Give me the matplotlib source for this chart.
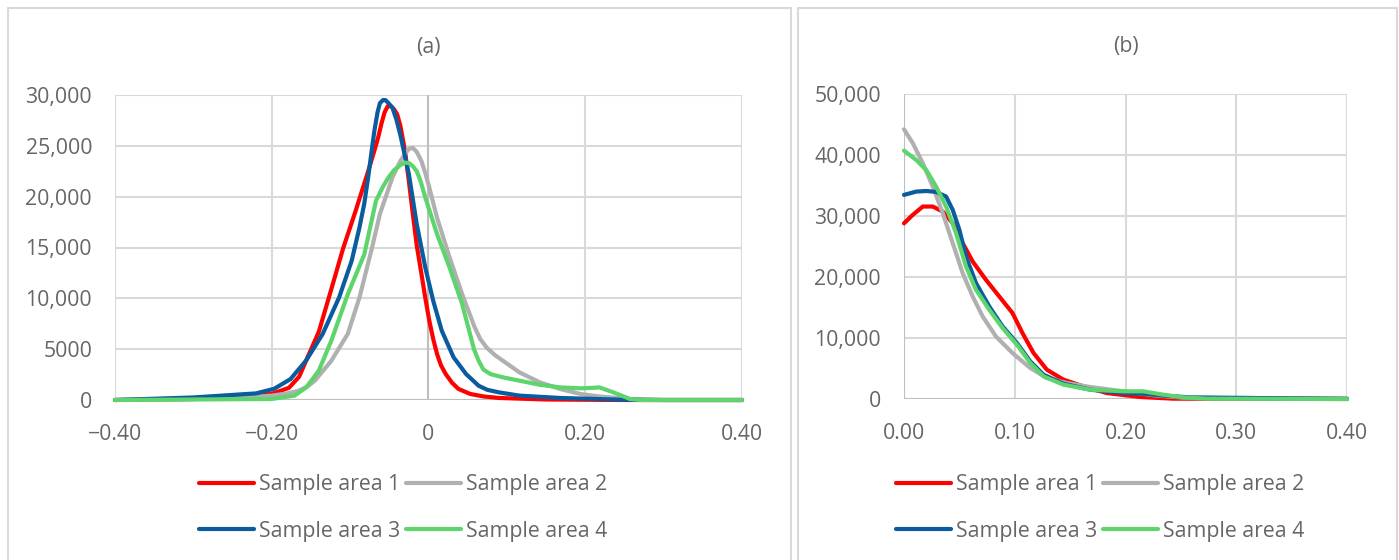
import matplotlib
matplotlib.use("Agg")
import matplotlib.pyplot as plt
from matplotlib.patches import Rectangle
from matplotlib.lines import Line2D

plt.rcParams['font.family'] = ['Open Sans', 'DejaVu Sans']

series_names = ["Sample area 1", "Sample area 2", "Sample area 3", "Sample area 4"]
colors = ["#FF0000", "#B0B0B0", "#0A5C9E", "#5DD56C"]

# ---- Panel (a) ----
a1_x = [-0.40, -0.30, -0.25, -0.20, -0.178, -0.165, -0.156, -0.14, -0.124, -0.109, -0.093, -0.077,
        -0.068, -0.064, -0.060, -0.056, -0.052, -0.048, -0.044, -0.040, -0.036, -0.030, -0.025,
        -0.020, -0.015, -0.009, -0.004, 0.001, 0.006, 0.011, 0.016, 0.022, 0.030, 0.038, 0.053,
        0.07, 0.09, 0.15, 0.25, 0.40]
a1_y = [0, 100, 250, 600, 1200, 2300, 3900, 6700, 10900, 14900, 18600, 22500,
        24800, 25900, 27200, 28300, 28900, 28900, 28600, 28100, 27000, 24500, 21500,
        18300, 15200, 12400, 10000, 7800, 6000, 4500, 3400, 2550, 1700, 1100, 600,
        350, 200, 50, 0, 0]

a2_x = [-0.40, -0.25, -0.20, -0.18, -0.166, -0.155, -0.145, -0.124, -0.103, -0.088, -0.072, -0.062,
        -0.046, -0.036, -0.030, -0.025, -0.020, -0.015, -0.009, -0.004, 0.001, 0.011, 0.027, 0.043,
        0.059, 0.066, 0.074, 0.085, 0.095, 0.116, 0.142, 0.168, 0.194, 0.22, 0.257, 0.30, 0.40]
a2_y = [0, 150, 430, 650, 900, 1300, 1900, 3860, 6500, 10100, 15000, 18300,
        21900, 23500, 24200, 24700, 24800, 24400, 23500, 22300, 20900, 17900, 14000, 10400,
        7140, 6000, 5170, 4400, 3860, 2720, 1740, 1080, 590, 330, 100, 0, 0]

a3_x = [-0.40, -0.30, -0.22, -0.197, -0.176, -0.156, -0.135, -0.114, -0.098, -0.088, -0.082, -0.077,
        -0.072, -0.069, -0.065, -0.062, -0.058, -0.055, -0.051, -0.046, -0.041, -0.036, -0.025,
        -0.015, -0.004, 0.006, 0.017, 0.032, 0.048, 0.064, 0.075, 0.09, 0.116, 0.168, 0.246,
        0.30, 0.40]
a3_y = [0, 250, 650, 1100, 2060, 3900, 6500, 10100, 13700, 17000, 19300, 21900,
        24800, 26500, 28300, 29200, 29500, 29500, 29200, 28750, 27600, 26100, 22200,
        17300, 13000, 9760, 6800, 4200, 2550, 1400, 1000, 750, 430, 200, 30,
        0, 0]

a4_x = [-0.40, -0.20, -0.171, -0.156, -0.14, -0.124, -0.103, -0.082, -0.067, -0.058, -0.051, -0.044,
        -0.036, -0.030, -0.025, -0.020, -0.015, -0.010, -0.004, 0.011, 0.027, 0.043, 0.053, 0.058,
        0.064, 0.070, 0.079, 0.095, 0.116, 0.142, 0.168, 0.194, 0.210, 0.218, 0.236, 0.257, 0.27,
        0.40]
a4_y = [0, 100, 430, 1240, 2880, 5830, 10400, 14300, 19600, 21000, 21900, 22600,
        23100, 23350, 23300, 23000, 22500, 21500, 19900, 16300, 13000, 9430, 6480, 5000,
        3860, 3000, 2550, 2230, 1900, 1500, 1240, 1150, 1200, 1240, 750, 100, 0,
        0]

a_xticks = [-0.40, -0.20, 0.0, 0.20, 0.40]
a_xticklabels = ["\u22120.40", "\u22120.20", "0", "0.20", "0.40"]
a_yticks = [0, 5000, 10000, 15000, 20000, 25000, 30000]
a_yticklabels = ["0", "5000", "10,000", "15,000", "20,000", "25,000", "30,000"]

# ---- Panel (b) ----
b1_x = [0.0, 0.008, 0.017, 0.026, 0.035, 0.044, 0.053, 0.062, 0.074, 0.086, 0.098, 0.107,
        0.117, 0.129, 0.144, 0.162, 0.183, 0.213, 0.243, 0.40]
b1_y = [28800, 30200, 31550, 31550, 30730, 28820, 25550, 22540, 19540, 16810, 14080, 10800,
        7530, 4800, 3170, 2070, 980, 330, 55, 0]

b2_x = [0.0, 0.008, 0.017, 0.026, 0.035, 0.044, 0.053, 0.062, 0.071, 0.083, 0.098, 0.114,
        0.129, 0.147, 0.168, 0.198, 0.228, 0.258, 0.40]
b2_y = [44210, 41920, 38650, 34830, 30460, 25550, 20630, 16810, 13540, 10260, 7530, 5080,
        3440, 2620, 1970, 1260, 550, 160, 0]

b3_x = [0.0, 0.011, 0.020, 0.029, 0.038, 0.044, 0.050, 0.056, 0.065, 0.077, 0.089, 0.102,
        0.114, 0.126, 0.144, 0.168, 0.198, 0.216, 0.234, 0.258, 0.318, 0.40]
b3_y = [33460, 34000, 34100, 33950, 33190, 31000, 27730, 23360, 19000, 15170, 11900, 9170,
        6170, 3980, 2510, 1530, 980, 870, 550, 270, 160, 50]

b4_x = [0.0, 0.011, 0.020, 0.029, 0.038, 0.047, 0.056, 0.065, 0.077, 0.089, 0.102, 0.114,
        0.126, 0.144, 0.168, 0.198, 0.216, 0.234, 0.252, 0.273, 0.40]
b4_y = [40720, 39190, 37550, 34830, 31550, 27180, 21720, 17900, 14630, 11630, 8900, 5900,
        3710, 2350, 1530, 1260, 1260, 710, 270, 55, 0]

b_xticks = [0.0, 0.10, 0.20, 0.30, 0.40]
b_xticklabels = ["0.00", "0.10", "0.20", "0.30", "0.40"]
b_yticks = [0, 10000, 20000, 30000, 40000, 50000]
b_yticklabels = ["0", "10,000", "20,000", "30,000", "40,000", "50,000"]

W, H = 1399, 560
fig = plt.figure(figsize=(W / 100, H / 100), dpi=100)

# panel borders
for (x0, x1) in [(8, 791), (798, 1397)]:
    fig.patches.append(Rectangle((x0 / W, -0.05), (x1 - x0) / W, (H - 8) / H + 0.05,
                                 transform=fig.transFigure, fill=False,
                                 edgecolor="#D9D9D9", linewidth=1.5))

TXT = "#666666"
GRID = "#D9D9D9"
AXC = "#BFBFBF"
FS = 15.3
LW = 3.0


def setup(ax, xlim, ylim, xt, xtl, yt, ytl, title):
    ax.set_xlim(*xlim)
    ax.set_ylim(*ylim)
    ax.set_xticks(xt)
    ax.set_xticklabels(xtl)
    ax.set_yticks(yt)
    ax.set_yticklabels(ytl)
    ax.grid(True, color=GRID, linewidth=1.5)
    ax.set_axisbelow(True)
    for s in ax.spines.values():
        s.set_visible(False)
    ax.axhline(0, color=AXC, linewidth=1.5, zorder=1)
    ax.axvline(0, color=AXC, linewidth=1.5, zorder=1)
    ax.tick_params(axis='both', length=0, labelsize=FS, labelcolor=TXT)
    ax.tick_params(axis='x', pad=17)
    ax.tick_params(axis='y', pad=16.5)
    ax.set_title(title, fontsize=FS, color=TXT, pad=30)


axa = fig.add_axes([115 / W, (H - 400) / H, 627 / W, 305 / H])
setup(axa, (-0.4, 0.4), (0, 30000), a_xticks, a_xticklabels, a_yticks, a_yticklabels, "(a)")
for xs, ys, c in zip([a1_x, a2_x, a3_x, a4_x], [a1_y, a2_y, a3_y, a4_y], colors):
    axa.plot(xs, ys, color=c, linewidth=LW, solid_joinstyle='round', solid_capstyle='round',
             clip_on=False, zorder=3)

axb = fig.add_axes([904 / W, (H - 399) / H, 443 / W, 305 / H])
setup(axb, (0, 0.4), (0, 50000), b_xticks, b_xticklabels, b_yticks, b_yticklabels, "(b)")
for xs, ys, c in zip([b1_x, b2_x, b3_x, b4_x], [b1_y, b2_y, b3_y, b4_y], colors):
    axb.plot(xs, ys, color=c, linewidth=LW, solid_joinstyle='round', solid_capstyle='round',
             clip_on=False, zorder=3)

handles = [Line2D([], [], color=c, linewidth=LW, solid_capstyle='round') for c in colors]
order = [0, 2, 1, 3]  # column-major fill so rows read 1,2 / 3,4
for cx in (403, 1100):
    fig.legend([handles[i] for i in order], [series_names[i] for i in order],
               loc='center', bbox_to_anchor=(cx / W, 1 - 508 / H),
               ncol=2, frameon=False, fontsize=FS, labelcolor=TXT,
               handlelength=2.6, handletextpad=0.2, columnspacing=0.3, labelspacing=1.2)

fig.savefig("out.png", dpi=100, facecolor="white")
